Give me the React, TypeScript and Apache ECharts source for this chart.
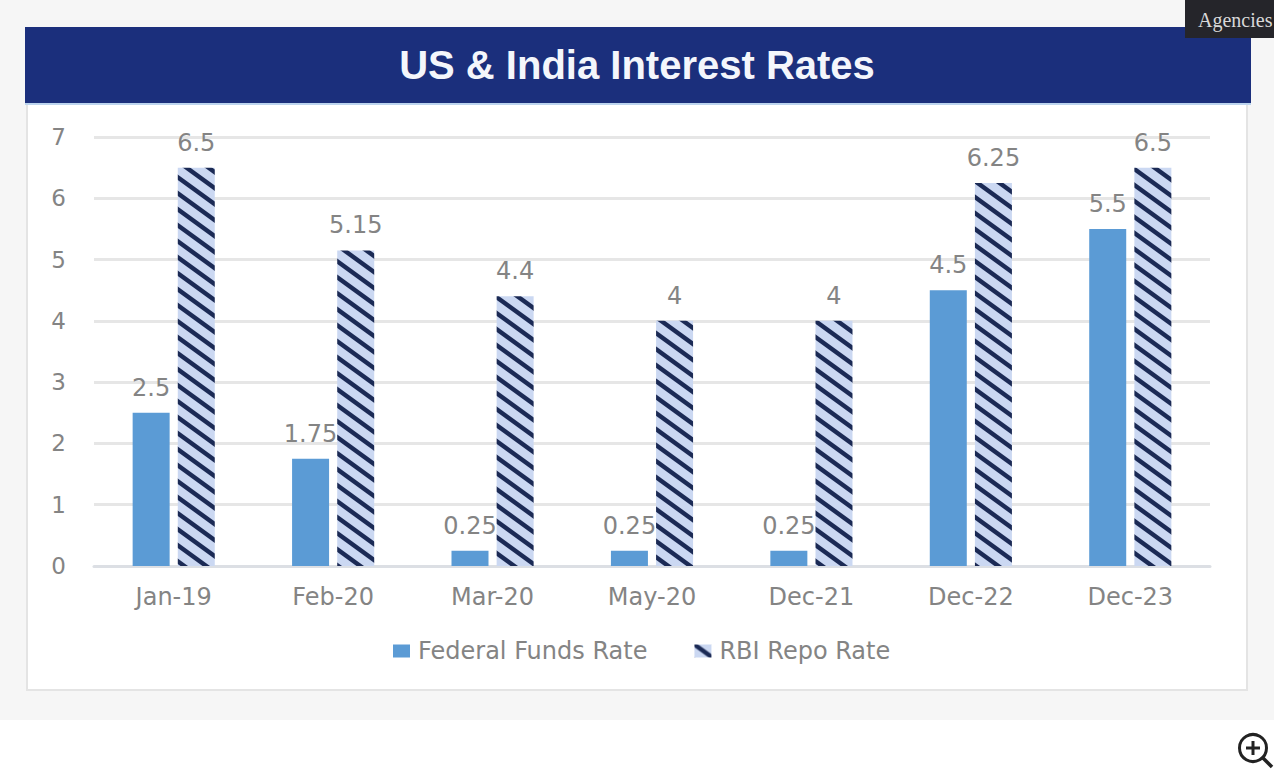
import React, { useEffect, useRef } from "react";
import * as echarts from "echarts";

const periods = ["Jan-19", "Feb-20", "Mar-20", "May-20", "Dec-21", "Dec-22", "Dec-23"];
const federalFundsRate = [2.5, 1.75, 0.25, 0.25, 0.25, 4.5, 5.5];
const rbiRepoRate = [6.5, 5.15, 4.4, 4, 4, 6.25, 6.5];
const rateTicks = { min: 0, max: 7, interval: 1 };

const titleText = "US & India Interest Rates";
const sourceText = "Agencies";
const labelFont = "'DejaVu Sans', sans-serif";
const labelGrey = "#848484";

// Diagonal navy hatch on a pale blue ground, tiled over the repo-rate bars.
function hatchTile(): HTMLCanvasElement {
  const w = 22;
  const h = 16;
  const canvas = document.createElement("canvas");
  canvas.width = w;
  canvas.height = h;
  const ctx = canvas.getContext("2d")!;
  ctx.fillStyle = "#cbd8f2";
  ctx.fillRect(0, 0, w, h);
  ctx.strokeStyle = "#1b2a55";
  ctx.lineWidth = 4.4;
  for (let k = -1; k <= 1; k++) {
    ctx.beginPath();
    ctx.moveTo(-w, k * h - h);
    ctx.lineTo(2 * w, k * h + 2 * h);
    ctx.stroke();
  }
  return canvas;
}

const barLabel = {
  show: true,
  position: "top" as const,
  distance: 13,
  color: labelGrey,
  fontFamily: labelFont,
  fontSize: 24,
};

export default function App() {
  const ref = useRef<HTMLDivElement>(null);

  useEffect(() => {
    const chart = echarts.init(ref.current!, undefined, { renderer: "svg" });
    const hatch = { image: hatchTile(), repeat: "repeat" as const };

    chart.setOption({
      animation: false,
      backgroundColor: "#ffffff",
      title: {
        text: titleText,
        left: 632,
        top: 60,
        textAlign: "center",
        textVerticalAlign: "middle",
        textStyle: {
          color: "#f4f6fb",
          fontFamily: "'Liberation Sans', Arial, sans-serif",
          fontWeight: "bold",
          fontSize: 40,
        },
      },
      grid: { left: 94, right: 64, top: 137, height: 429 },
      legend: {
        left: 388,
        top: 634,
        itemWidth: 17,
        itemHeight: 13,
        itemGap: 47,
        icon: "rect",
        textStyle: { color: labelGrey, fontFamily: labelFont, fontSize: 24, padding: [0, 0, 0, 3] },
        data: ["Federal Funds Rate", "RBI Repo Rate"],
      },
      xAxis: {
        type: "category",
        data: periods,
        axisTick: { show: false },
        axisLine: { lineStyle: { color: "#dcdfe4", width: 3 } },
        axisLabel: { color: labelGrey, fontFamily: labelFont, fontSize: 24, margin: 19 },
      },
      yAxis: {
        type: "value",
        ...rateTicks,
        axisLine: { show: false },
        axisTick: { show: false },
        splitLine: { lineStyle: { color: "#e6e6e6", width: 3 } },
        axisLabel: { color: labelGrey, fontFamily: labelFont, fontSize: 23, margin: 28 },
      },
      series: [
        {
          name: "Federal Funds Rate",
          type: "bar",
          data: federalFundsRate,
          barWidth: 37,
          barGap: "22%",
          itemStyle: { color: "#5b9bd5" },
          label: barLabel,
        },
        {
          name: "RBI Repo Rate",
          type: "bar",
          data: rbiRepoRate,
          barWidth: 37,
          itemStyle: { color: hatch },
          label: barLabel,
        },
      ],
      graphic: [
        { type: "rect", z: -3, shape: { x: 0, y: 0, width: 1274, height: 720 }, style: { fill: "#f6f6f6" } },
        {
          type: "rect",
          z: -2,
          shape: { x: 27, y: 104, width: 1220, height: 586 },
          style: { fill: "#ffffff", stroke: "#e4e4e4", lineWidth: 2 },
        },
        { type: "rect", z: -1, shape: { x: 25, y: 27, width: 1226, height: 76 }, style: { fill: "#1b2f7c" } },
        // Pale blue edge under the title band.
        { type: "rect", z: -1, shape: { x: 25, y: 103, width: 1226, height: 2 }, style: { fill: "#bcd4ee" } },
        { type: "rect", z: 1, shape: { x: 1185, y: 0, width: 89, height: 38 }, style: { fill: "#25252a" } },
        {
          type: "text",
          z: 2,
          x: 1198,
          y: 10,
          style: { text: sourceText, fill: "#d8d8d8", fontFamily: "'Liberation Serif', serif", fontSize: 20 },
        },
        // Magnifier button in the lower right corner of the page.
        { type: "circle", z: 1, shape: { cx: 1253, cy: 748, r: 13.5 }, style: { fill: "none", stroke: "#222222", lineWidth: 3 } },
        { type: "line", z: 1, shape: { x1: 1263, y1: 758, x2: 1272, y2: 767 }, style: { stroke: "#222222", lineWidth: 3.5 } },
        { type: "line", z: 1, shape: { x1: 1246, y1: 748, x2: 1260, y2: 748 }, style: { stroke: "#222222", lineWidth: 3 } },
        { type: "line", z: 1, shape: { x1: 1253, y1: 741, x2: 1253, y2: 755 }, style: { stroke: "#222222", lineWidth: 3 } },
      ],
    });

    return () => chart.dispose();
  }, []);

  return <div ref={ref} style={{ position: "fixed", left: 0, top: 0, width: 1274, height: 780 }} />;
}
